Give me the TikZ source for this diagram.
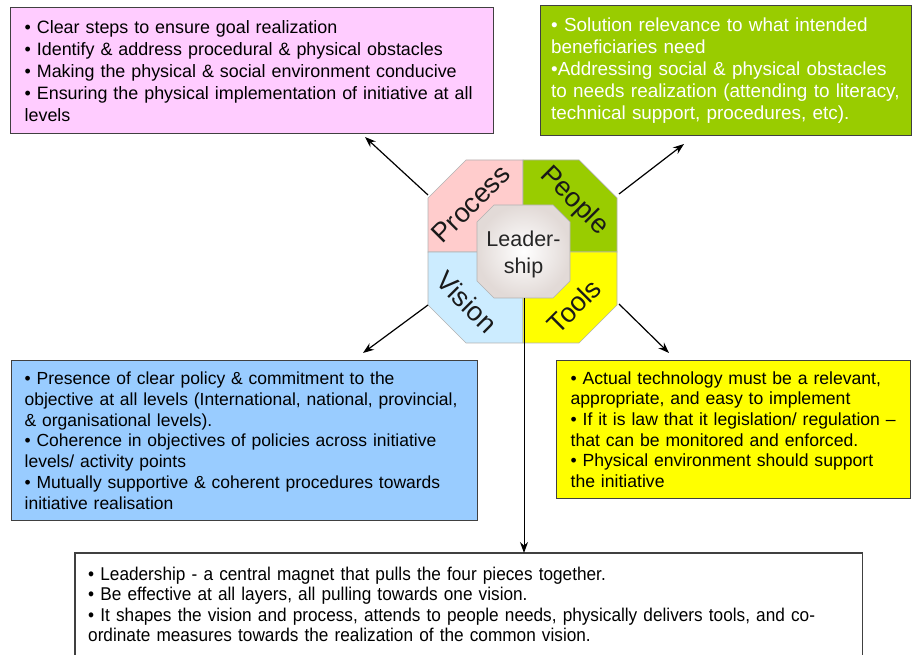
\documentclass[tikz,border=0pt]{standalone}
\usepackage{fontspec}
\setmainfont{Liberation Sans}
\newfontfamily\narrowfont[FakeStretch=0.93,WordSpace=1.9]{Liberation Sans}
\usetikzlibrary{arrows.meta}
\hyphenpenalty=10000
\exhyphenpenalty=10000
\definecolor{pinkbox}{RGB}{255,204,255}
\definecolor{greenbox}{RGB}{153,204,0}
\definecolor{bluebox}{RGB}{153,204,255}
\definecolor{yellowbox}{RGB}{255,255,0}
\definecolor{processfill}{RGB}{255,204,204}
\definecolor{visionfill}{RGB}{204,236,255}
\definecolor{boxline}{RGB}{64,64,64}
\definecolor{leadedge}{RGB}{226,218,215}
\tikzset{
  infobox/.style={draw=boxline, line width=1.3pt, anchor=north west, align=left, inner ysep=0pt},
  quarter/.style={draw=gray!60, line width=0.7pt},
  quartertext/.style={font=\fontsize{27}{27}\selectfont, inner sep=0pt, text=black!90},
  pointer/.style={->, line width=1.2pt},
}

\begin{document}
\begin{tikzpicture}[x=1pt,y=-1pt,>={Stealth[length=11pt,width=8pt]}]
\useasboundingbox (0,0) rectangle (914,655);

\node[infobox, fill=pinkbox, text width=455pt, inner xsep=14pt, minimum height=126pt, font=\fontsize{17.9}{22}\selectfont] (processbox) at (10,7) {\textbullet\ Clear steps to ensure goal realization\\
\textbullet\ Identify \& address procedural \& physical obstacles\\
\textbullet\ Making the physical \& social environment conducive\\
\textbullet\ Ensuring the physical implementation of initiative at all\\
levels};
\node[infobox, fill=greenbox, text=white, text width=350pt, inner xsep=10.5pt, minimum height=130pt, font=\fontsize{18.9}{22}\selectfont] (peoplebox) at (540,5) {\textbullet\ Solution relevance to what intended\\
beneficiaries need\\
\textbullet Addressing social \& physical obstacles\\
to needs realization (attending to literacy,\\
technical support, procedures, etc).};
\node[infobox, fill=bluebox, text width=440pt, inner xsep=13pt, minimum height=160pt, font=\fontsize{17.5}{20.8}\selectfont] (visionbox) at (11,360) {\textbullet\ Presence of clear policy \& commitment to the\\
objective at all levels (International, national, provincial,\\
\& organisational levels).\\
\textbullet\ Coherence in objectives of policies across initiative\\
levels/ activity points\\
\textbullet\ Mutually supportive \& coherent procedures towards\\
initiative realisation};
\node[infobox, fill=yellowbox, text width=326pt, inner xsep=14pt, minimum height=138pt, font=\fontsize{17.6}{20.7}\selectfont] (toolsbox) at (556,360) {\textbullet\ Actual technology must be a relevant,\\
appropriate, and easy to implement\\
\textbullet\ If it is law that it legislation/ regulation --\\
that can be monitored and enforced.\\
\textbullet\ Physical environment should support\\
the initiative};
\node[anchor=north west, align=left, text width=761pt, inner xsep=13pt, inner ysep=0pt, minimum height=102pt, font=\narrowfont\fontsize{18.5}{20.5}\selectfont] (lbox) at (75,553) {\textbullet\ Leadership - a central magnet that pulls the four pieces together.\\
\textbullet\ Be effective at all layers, all pulling towards one vision.\\
\textbullet\ It shapes the vision and process, attends to people needs, physically delivers tools, and co-\\
ordinate measures towards the realization of the common vision.};
\draw[draw=boxline, line width=1.3pt] (lbox.south west) -- (lbox.north west) -- (lbox.north east) -- (lbox.south east);

\draw[quarter, fill=processfill] (428,252) -- (428,198) -- (466,160) -- (523,160) -- (523,252) -- cycle;
\draw[quarter, fill=greenbox] (523,252) -- (523,160) -- (579,160) -- (617,198) -- (617,252) -- cycle;
\draw[quarter, fill=visionfill] (428,252) -- (523,252) -- (523,343) -- (466,343) -- (428,305) -- cycle;
\draw[quarter, fill=yellowbox] (523,252) -- (617,252) -- (617,305) -- (579,343) -- (523,343) -- cycle;
\draw[draw=gray!60, line width=0.7pt, inner color=white, outer color=leadedge] (494,205) -- (553,205) -- (570,222) -- (570,281) -- (553,298) -- (494,298) -- (477,281) -- (477,222) -- cycle;

\node[quartertext, rotate=45] (process) at (471,204) {Process};
\node[quartertext, rotate=-45] (people) at (574,201) {People};
\node[quartertext, rotate=-45] (vision) at (467,302) {Vision};
\node[quartertext, rotate=45] (tools) at (574,306) {Tools};
\node[font=\fontsize{21.5}{27}\selectfont, align=center, text=black!85] (lead) at (523.5,254) {Leader-\\ship};

\coordinate (processcorner) at (428,195);
\coordinate (peoplecorner) at (619,194);
\coordinate (visioncorner) at (428,305);
\coordinate (toolscorner) at (619,304);
\coordinate (processtip) at (365,137);
\coordinate (peopletip) at (684,144);
\coordinate (visiontip) at (363,353);
\coordinate (toolstip) at (669,353);
\coordinate (leadbot) at (524,298);

\draw[pointer] (processcorner) -- (processtip);
\draw[pointer] (peoplecorner) -- (peopletip);
\draw[pointer] (visioncorner) -- (visiontip);
\draw[pointer] (toolscorner) -- (toolstip);
\draw[->, line width=1pt] (leadbot) -- (leadbot |- lbox.north);
\end{tikzpicture}
\end{document}
